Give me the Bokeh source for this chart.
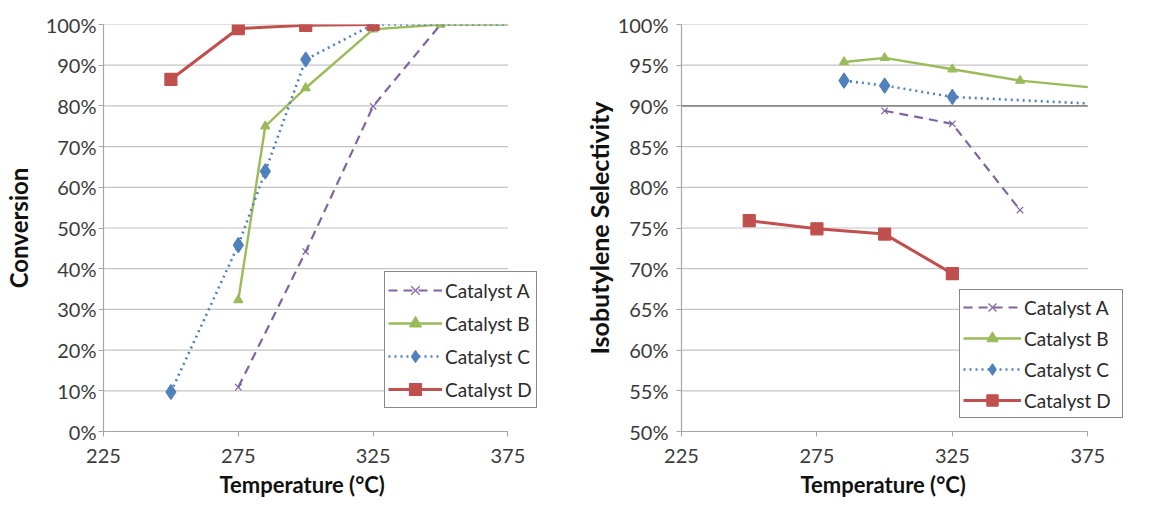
from bokeh.plotting import figure
from bokeh.layouts import row
from bokeh.models import (Legend, LegendItem, PrintfTickFormatter, FixedTicker, Range1d,
                          Title, ColumnDataSource, CDSView, IndexFilter)
from bokeh.embed import file_html
from bokeh.resources import INLINE

FONT = "Lato"

# ---------------- data: Conversion (%) ----------------
conv_A_T = [275, 300, 325, 350]
conv_A = [10.9, 44.2, 79.9, 100]
conv_B_T = [275, 285, 300, 325, 350, 375]
conv_B = [32.3, 75.0, 84.4, 98.8, 100, 100]
conv_C_T = [250, 275, 285, 300, 325, 375]
conv_C = [9.7, 45.8, 63.9, 91.4, 100, 100]
conv_D_T = [250, 275, 300, 325]
conv_D = [86.5, 99.0, 99.8, 100]

# ---------------- data: Isobutylene selectivity (%) ----------------
sel_A_T = [300, 325, 350]
sel_A = [89.4, 87.8, 77.2]
sel_B_T = [285, 300, 325, 350, 375]
sel_B = [95.4, 95.9, 94.5, 93.1, 92.3]
sel_C_T = [285, 300, 325, 375]
sel_C = [93.1, 92.5, 91.1, 90.3]
sel_D_T = [250, 275, 300, 325]
sel_D = [75.9, 74.9, 74.25, 69.4]
sel_ref_line = [90]

labels = ["Catalyst A", "Catalyst B", "Catalyst C", "Catalyst D"]
x_min, x_max = 225, 375
x_ticks = [225, 275, 325, 375]
conv_ticks = list(range(0, 101, 10))
sel_ticks = list(range(50, 101, 5))

COL_A = "#8064A2"
COL_B = "#9BBB59"
COL_C = "#4F81BD"
COL_D = "#C0504D"

PX_PER_DEG = 409 / 150.0  # frame scale of the reference


def make_fig(width, frame_w, y0, y1, yticks, ylabel, y_std, ylab_std, ylab_size, title_offset):
    x_end = x_min + frame_w / PX_PER_DEG
    p = figure(width=width, height=506,
               min_border_left=98, min_border_right=width - 98 - frame_w,
               min_border_top=24, min_border_bottom=75,
               x_range=Range1d(x_min, x_end), y_range=Range1d(y0, y1),
               output_backend="svg", toolbar_location=None)
    p.outline_line_color = None
    p.background_fill_color = "white"
    p.border_fill_color = "white"
    p.xgrid.visible = False
    p.ygrid.visible = False
    # horizontal grid lines only across the 225-375 plot area
    p.segment(x0=[x_min] * len(yticks), x1=[x_max] * len(yticks), y0=yticks, y1=yticks,
              line_color="#c4c4c4", line_width=1.2, level="underlay")
    p.xaxis.ticker = FixedTicker(ticks=x_ticks)
    p.xaxis.bounds = (x_min, x_max)
    p.yaxis.ticker = FixedTicker(ticks=yticks)
    p.yaxis.formatter = PrintfTickFormatter(format="%d%%")
    for ax in (p.xaxis[0], p.yaxis[0]):
        ax.axis_line_color = "#a6a6a6"
        ax.axis_line_width = 1.2
        ax.major_tick_line_color = "#a6a6a6"
        ax.major_tick_in = 0
        ax.major_tick_out = 5
        ax.minor_tick_line_color = None
        ax.major_label_text_font = FONT
        ax.major_label_text_font_size = "20px"
        ax.major_label_text_color = "#3a3a3a"
        ax.axis_label_text_font = FONT
        ax.axis_label_text_font_style = "bold"
        ax.axis_label_text_color = "#111111"
    p.yaxis.axis_label_text_font_size = ylab_size
    p.yaxis.axis_label = ylabel
    p.yaxis.major_label_standoff = y_std
    p.yaxis.axis_label_standoff = ylab_std
    p.xaxis.major_label_standoff = 12
    # x-axis title, centred under the 225-375 span
    p.add_layout(Title(text="Temperature (°C)", align="left", offset=title_offset,
                       text_font=FONT, text_font_style="bold", text_font_size="22px",
                       text_color="#111111", standoff=9, vertical_align="middle"), "below")
    return p


def series(p, xs, ys, color, line_kw, marker, size):
    src = ColumnDataSource(dict(x=xs, y=ys))
    ln = p.line("x", "y", source=src, line_color=color, **line_kw)
    # markers only at measured points inside the plotted span (line runs on to the edge)
    idx = [i for i, v in enumerate(xs) if v < x_max]
    sc = p.scatter("x", "y", source=src, view=CDSView(filter=IndexFilter(idx)),
                   marker=marker, size=size, fill_color=color, line_color=color,
                   line_width=1.2)
    return [ln, sc]


def add_series(p, xa, ya, xb, yb, xc, yc, xd, yd, loc, glyph_w, label_w, glyph_h):
    rA = series(p, xa, ya, COL_A, dict(line_width=2.2, line_dash="9 6"), "x", 9)
    rB = series(p, xb, yb, COL_B, dict(line_width=2.4), "triangle", 9)
    rC = series(p, xc, yc, COL_C, dict(line_width=2.6, line_dash="2 4"), "diamond", 15)
    rD = series(p, xd, yd, COL_D, dict(line_width=3), "square", 12)
    legend = Legend(items=[LegendItem(label=lab, renderers=r)
                           for lab, r in zip(labels, [rA, rB, rC, rD])], location=loc)
    legend.border_line_color = "#111111"
    legend.border_line_width = 1.5
    legend.background_fill_color = "white"
    legend.background_fill_alpha = 1.0
    legend.padding = 3
    legend.margin = 0
    legend.spacing = 3
    legend.glyph_width = glyph_w
    legend.glyph_height = glyph_h
    legend.label_height = glyph_h
    legend.label_width = label_w
    legend.label_standoff = 3
    legend.label_text_font = FONT
    legend.label_text_font_size = "19px"
    legend.label_text_color = "#2a2a2a"
    p.add_layout(legend)


p1 = make_fig(580, 447, 0, 100, conv_ticks, "Conversion", 2, 10, "24px", 116)
add_series(p1, conv_A_T, conv_A, conv_B_T, conv_B, conv_C_T, conv_C, conv_D_T, conv_D,
           (281, 23), 54, 88, 30)

p2 = make_fig(581, 452, 50, 100, sel_ticks, "Isobutylene Selectivity", 8, 1, "25px", 119)
p2.segment(x0=[x_min], x1=[x_max], y0=sel_ref_line, y1=sel_ref_line,
           line_color="#8a8a8a", line_width=1.6, level="underlay")
add_series(p2, sel_A_T, sel_A, sel_B_T, sel_B, sel_C_T, sel_C, sel_D_T, sel_D,
           (278, 13), 58, 95, 28)

layout = row(p1, p2)
open("out.html", "w").write(file_html(layout, INLINE))
